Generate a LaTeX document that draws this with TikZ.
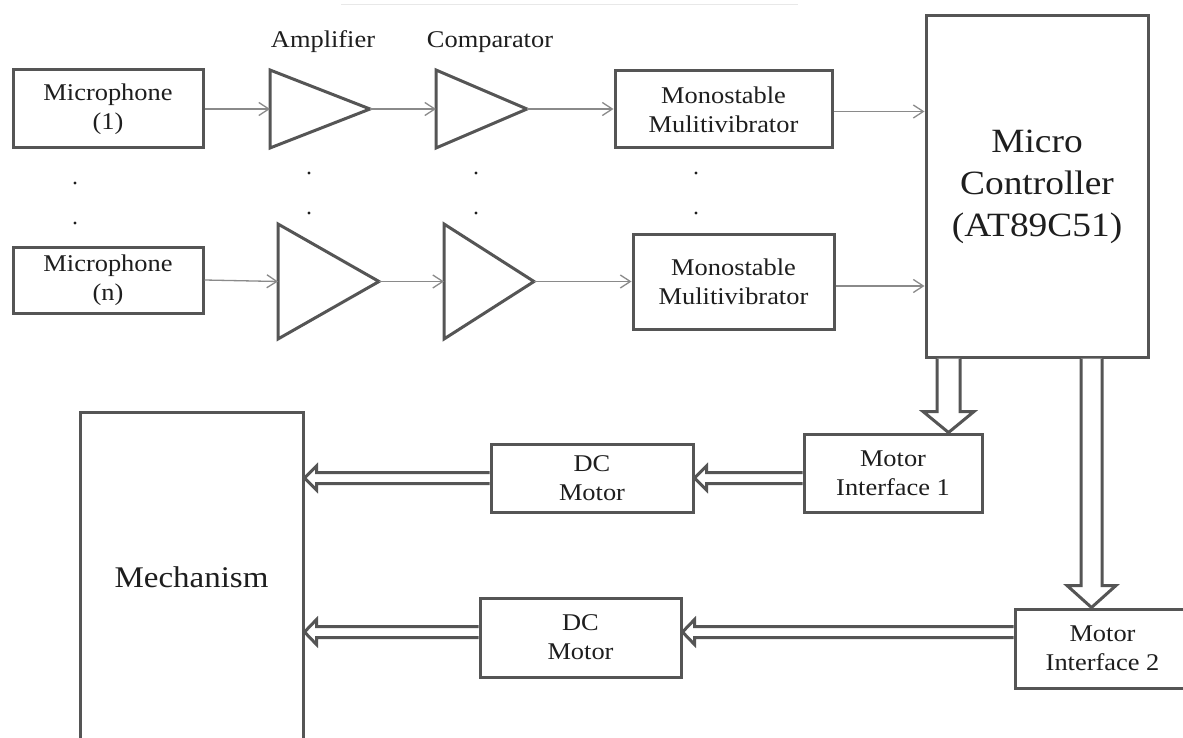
\documentclass[tikz,border=0pt]{standalone}
\usepackage{fontspec}
\setmainfont{Liberation Serif}[FakeStretch=1.1]
\usetikzlibrary{arrows.meta,calc}
\definecolor{boxc}{HTML}{555555}
\definecolor{linec}{HTML}{8A8A8A}
\definecolor{txtc}{HTML}{1E1E1E}
\newcommand\hollowleft[5]{%
  \draw[hollow] let \p1=(#1), \p2=(#2) in
    (\x1,\y1+#3pt) -- (\x2+#5pt,\y1+#3pt) -- (\x2+#5pt,\y1+#4pt) -- (\x2,\y1)
    -- (\x2+#5pt,\y1-#4pt) -- (\x2+#5pt,\y1-#3pt) -- (\x1,\y1-#3pt);}
\newcommand\hollowdown[5]{%
  \draw[hollow] let \p1=(#1), \p2=(#2) in
    (\x1-#3pt,\y1) -- (\x1-#3pt,\y2+#5pt) -- (\x1-#4pt,\y2+#5pt) -- (\x1,\y2)
    -- (\x1+#4pt,\y2+#5pt) -- (\x1+#3pt,\y2+#5pt) -- (\x1+#3pt,\y1);}
\begin{document}
\begin{tikzpicture}[x=1pt,y=-1pt,
  box/.style={draw=boxc, line width=3pt, inner sep=0pt, text=txtc, align=center,
    font=\fontsize{24}{29}\selectfont},
  tri/.style={draw=boxc, line width=3pt, line join=miter},
  sig/.style={draw=linec, line width=1.3pt, -{Straight Barb[length=10pt,width=13pt]}},
  hollow/.style={draw=boxc, line width=3pt, fill=white, line join=miter},
  lbl/.style={text=txtc, font=\fontsize{24}{29}\selectfont, inner sep=0pt}]
\useasboundingbox (0,0) rectangle (1183,738);
\fill[white] (0,0) rectangle (1183,738);
\draw[gray!18, line width=1pt] (341,5) -- (798,5);

% boxes
\node[box, minimum width=190pt, minimum height=78pt] (mic1) at (108,109) {Microphone\\(1)};
\node[box, minimum width=190pt, minimum height=66pt] (micn) at (108,280) {Microphone\\(n)};
\node[box, minimum width=217pt, minimum height=77pt] (mono1) at (723.5,109.5) {Monostable\\Mulitivibrator};
\node[box, minimum width=201pt, minimum height=95pt] (monon) at (733.5,281.5) {Monostable\\Mulitivibrator};
\node[box, minimum width=222pt, minimum height=341pt, font=\fontsize{34}{42}\selectfont] (micro) at (1037,186.5) {Micro\\Controller\\(AT89C51)};
\node[box, minimum width=178pt, minimum height=78pt] (mi1) at (893,473) {Motor\\Interface 1};
\node[box, minimum width=175pt, minimum height=79pt] (mi2) at (1102.5,648.5) {Motor\\Interface 2};
\node[box, minimum width=202pt, minimum height=68pt] (dc1) at (592,478) {DC\\Motor};
\node[box, minimum width=201pt, minimum height=79pt] (dc2) at (580.5,637.5) {DC\\Motor};
\node[box, minimum width=223pt, minimum height=330pt, font=\fontsize{30}{36}\selectfont] (mech) at (191.5,577) {Mechanism};

% labels
\node[lbl] (amplbl) at (323,42) {Amplifier};
\node[lbl] (complbl) at (490,42) {Comparator};

% triangles
\draw[tri] (270,70) -- (370,109) -- (270,148) -- cycle;
\coordinate (amp1w) at (270,109); \coordinate (amp1e) at (370,109);
\draw[tri] (436,70) -- (527,109) -- (436,148) -- cycle;
\coordinate (comp1w) at (436,109); \coordinate (comp1e) at (527,109);
\draw[tri] (278,224) -- (379,281.5) -- (278,339) -- cycle;
\coordinate (ampnw) at (278,281.5); \coordinate (ampne) at (379,281.5);
\draw[tri] (444,224) -- (534,281.5) -- (444,339) -- cycle;
\coordinate (compnw) at (444,281.5); \coordinate (compne) at (534,281.5);

% dots
\foreach \px/\py in {75/183,75/223,309/173,309/213,476/173,476/213,696/173,696/213}
  \fill[txtc] (\px,\py) circle[radius=1.7];

% signal arrows
\draw[sig] (mic1.east) -- (amp1w);
\draw[sig] (amp1e) -- (comp1w);
\draw[sig] (comp1e) -- (comp1e -| mono1.west);
\draw[sig] ([yshift=-2pt]mono1.east) -- ([yshift=-2pt]mono1.east -| micro.west);
\draw[sig] (micn.east) -- (ampnw);
\draw[sig] (ampne) -- (compnw);
\draw[sig] (compne) -- (compne -| monon.west);
\draw[sig] ([yshift=-4.5pt]monon.east) -- ([yshift=-4.5pt]monon.east -| micro.west);

% hollow arrows
\coordinate (a1s) at ($(micro.south)+(-88.5,0)$);
\coordinate (a1t) at (a1s |- mi1.north);
\hollowdown{a1s}{a1t}{11.5}{25.5}{21}
\coordinate (a2s) at ($(micro.south)+(54.5,0)$);
\coordinate (a2t) at (a2s |- mi2.north);
\hollowdown{a2s}{a2t}{10.5}{24.5}{22}
\coordinate (a3s) at (mi1.west |- dc1.east);
\hollowleft{a3s}{dc1.east}{5.5}{12}{12}
\coordinate (a4t) at ($(dc2.east)+(0,-5.5)$);
\coordinate (a4s) at (mi2.west |- a4t);
\hollowleft{a4s}{a4t}{5.5}{12.5}{12}
\coordinate (a5t) at (dc1.west -| mech.east);
\hollowleft{dc1.west}{a5t}{5.5}{12}{12}
\coordinate (a6s) at ($(dc2.west)+(0,-5.5)$);
\coordinate (a6t) at (a6s -| mech.east);
\hollowleft{a6s}{a6t}{5.5}{12.5}{12}
\end{tikzpicture}
\end{document}
